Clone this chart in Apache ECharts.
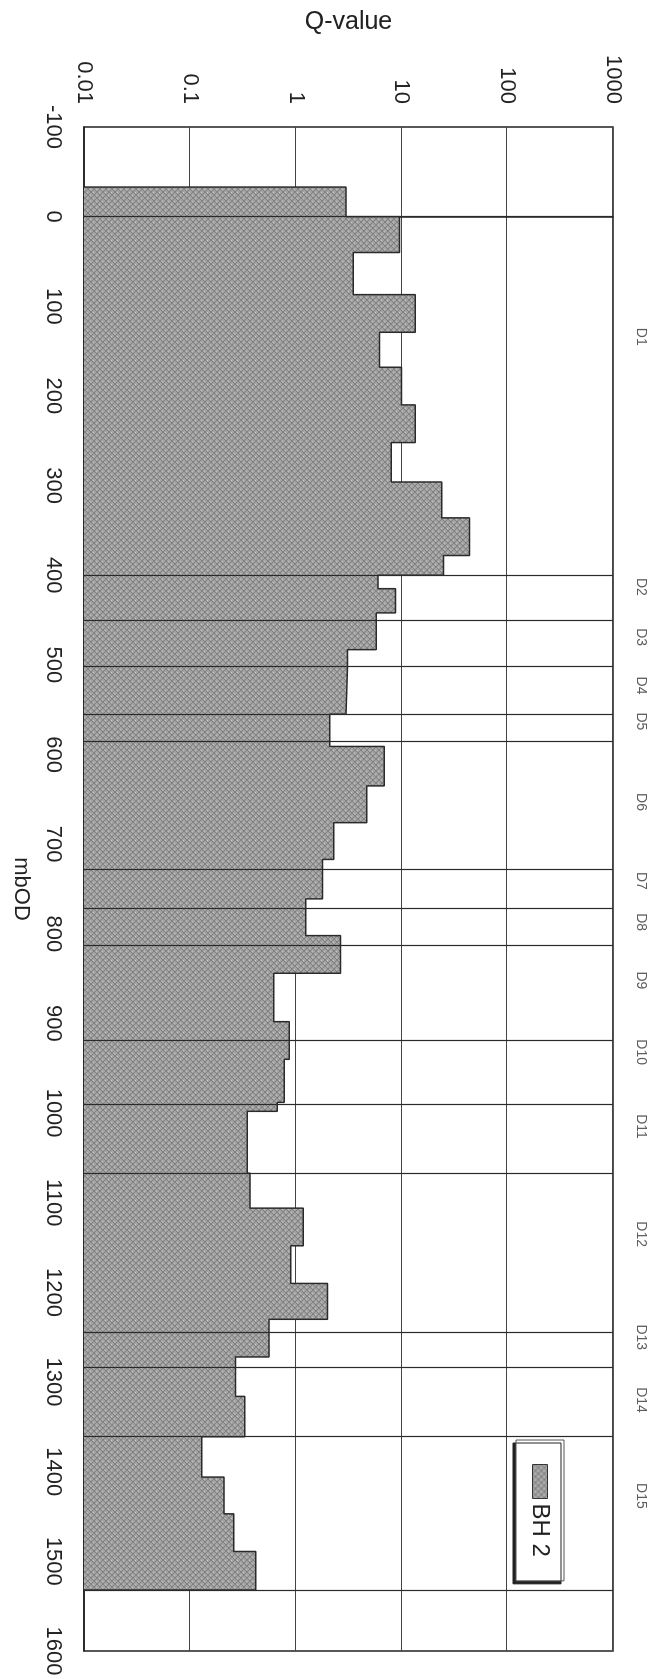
<!DOCTYPE html>
<html><head><meta charset="utf-8">
<script src="https://cdn.jsdelivr.net/npm/echarts@6.0.0/dist/echarts.min.js"></script>
<style>
html,body{margin:0;padding:0;width:655px;height:1679px;overflow:hidden;background:#fff;}
#chart{position:absolute;left:0;top:0;width:1679px;height:655px;transform-origin:0 0;transform:translate(655px,0) rotate(90deg);}
</style></head><body><div id="chart"></div>
<script>
// Depth intervals (mbOD) and Q-values of borehole BH 2
const depthFrom = [-33,0,40,87,129,168,210,252,296,336,378,400,415,442,483,502,555,591,635,676,717,761,802,844,898,940,988,998,1067,1106,1148,1190,1230,1272,1316,1361,1406,1447,1489];
const depthTo   = [0,40,87,129,168,210,252,296,336,378,400,415,442,483,502,555,591,635,676,717,761,802,844,898,940,988,998,1067,1106,1148,1190,1230,1272,1316,1361,1406,1447,1489,1532];
const qValue    = [3.0,9.6,3.5,13.5,6.2,10,13.5,8.0,24,44,25,6.0,8.8,5.8,3.1,3.0,2.1,6.9,4.7,2.3,1.8,1.25,2.65,0.62,0.87,0.78,0.67,0.35,0.37,1.18,0.9,2.0,0.56,0.27,0.33,0.13,0.21,0.26,0.42];
// Domain boundaries and labels
const zoneBounds  = [0,400,450,502,555,585,728,772,813,919,990,1067,1244,1283,1361,1532];
const zoneNames   = ['D1','D2','D3','D4','D5','D6','D7','D8','D9','D10','D11','D12','D13','D14','D15'];
const zoneLabelAt = [134,413,469,523,563,653,741,787,852,932,1015,1135,1250,1320,1427];
// Axis tick labels
const qTicks = ['0.01','0.1','1','10','100','1000'];
const seriesName = 'BH 2';

const FONT = '"Liberation Sans", Arial, Helvetica, sans-serif';
const TXT = '#222';

function makePattern(){
  const c = document.createElement('canvas'); c.width = 6; c.height = 6;
  const g = c.getContext('2d');
  g.fillStyle = '#a3a3a3'; g.fillRect(0,0,6,6);
  g.strokeStyle = '#828282'; g.lineWidth = 1;
  g.beginPath(); g.moveTo(0,0); g.lineTo(6,6); g.moveTo(6,0); g.lineTo(0,6); g.stroke();
  g.fillStyle = '#c4c4c4'; g.fillRect(3,0,1,1); g.fillRect(0,3,1,1);
  return c;
}
const pattern = {image: makePattern(), repeat: 'repeat'};

const qMin = Math.pow(10, -2), qMax = Math.pow(10, 3);
const stepPoints = [[depthFrom[0], qMin]];
for (let i = 0; i < qValue.length; i++) {
  stepPoints.push([depthFrom[i], qValue[i]]);
  stepPoints.push([depthTo[i], qValue[i]]);
}
stepPoints.push([depthTo[depthTo.length-1], qMin]);

const chart = echarts.init(document.getElementById('chart'), null, {width:1679, height:655, renderer:'canvas'});
chart.setOption({
  animation: false,
  backgroundColor: '#fff',
  grid: {left:127, right:28, top:42, bottom:84, show:true, borderColor:'#222', borderWidth:1.5, backgroundColor:'transparent'},
  legend: {
    show:true, left:1440, top:91, orient:'horizontal', selectedMode:false,
    padding:[12,24,12,24], itemWidth:34, itemHeight:15, itemGap:10,
    backgroundColor:'#fff', borderColor:'#555', borderWidth:1,
    shadowColor:'#222', shadowOffsetX:3, shadowOffsetY:3, shadowBlur:0,
    textStyle:{fontSize:24, color:TXT, fontFamily:FONT},
    data:[{name:seriesName, icon:'rect', itemStyle:{color:pattern, borderColor:'#333', borderWidth:1}}]
  },
  xAxis: {
    type:'value', min:-100, max:1600, interval:100, position:'bottom',
    name:'mbOD', nameLocation:'middle', nameGap:52,
    nameTextStyle:{fontSize:22, color:TXT, fontFamily:FONT},
    axisLine:{show:true, lineStyle:{color:'#222', width:1.5}},
    axisTick:{show:false},
    axisLabel:{fontSize:22, color:TXT, margin:20, fontFamily:FONT, interval:0, showMinLabel:true, showMaxLabel:true,
      formatter: v => String(v)},
    splitLine:{show:false}
  },
  yAxis: {
    type:'log', logBase:10, min:qMin, max:qMax, position:'left',
    name:'Q-value', nameLocation:'middle', nameGap:92, nameRotate:90,
    nameTextStyle:{fontSize:25, color:TXT, fontFamily:FONT},
    axisLine:{show:true, lineStyle:{color:'#222', width:1.5}},
    axisTick:{show:false},
    axisLabel:{fontSize:22, color:TXT, margin:23, fontFamily:FONT, showMinLabel:true, showMaxLabel:true,
      formatter: v => qTicks[Math.round(Math.log10(v)) + 2]},
    splitLine:{show:true, lineStyle:{color:'#444', width:1}}
  },
  series: [
    {
      name: seriesName, type:'line', data: stepPoints, showSymbol:false, symbol:'none',
      lineStyle:{color:'#2a2a2a', width:1.5}, itemStyle:{color:pattern},
      areaStyle:{color:pattern, opacity:1, origin:'start'}, z:2, silent:true,
      markLine:{
        silent:true, symbol:'none', animation:false, z:5,
        lineStyle:{color:'#2a2a2a', width:1.2, type:'solid'},
        label:{show:false},
        data: zoneBounds.map(v => ({xAxis: v}))
      }
    },
    {
      name:'zones', type:'scatter', data: zoneLabelAt.map(v => [v, qMax]),
      symbol:'circle', symbolSize:1, itemStyle:{color:'rgba(0,0,0,0)'}, clip:false, silent:true, z:6,
      label:{show:true, position:'top', distance:20, fontSize:14, color:'#333', fontFamily:FONT,
        formatter: p => zoneNames[p.dataIndex]}
    }
  ]
});
</script></body></html>
